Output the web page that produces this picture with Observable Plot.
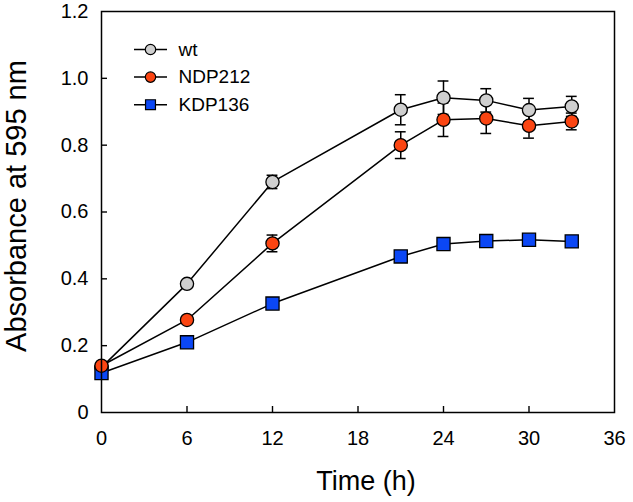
<!DOCTYPE html>
<html>
<head>
<meta charset="utf-8">
<script src="https://cdn.jsdelivr.net/npm/d3@7"></script>
<script src="https://cdn.jsdelivr.net/npm/@observablehq/plot@0.6"></script>
<style>
html,body{margin:0;padding:0;background:#fff;}
svg{display:block;}
</style>
</head>
<body>
<div id="chart"></div>
<script>
const times = [0, 6, 12, 21, 24, 27, 30, 33];
const seriesNames = ["wt", "NDP212", "KDP136"];
const wtValues   = [0.135, 0.385, 0.690, 0.906, 0.942, 0.934, 0.905, 0.916];
const wtErr      = [0.005, 0.008, 0.020, 0.045, 0.050, 0.035, 0.035, 0.030];
const ndpValues  = [0.140, 0.277, 0.506, 0.800, 0.876, 0.880, 0.858, 0.871];
const ndpErr     = [0.005, 0.008, 0.025, 0.040, 0.050, 0.045, 0.037, 0.025];
const kdpValues  = [0.118, 0.210, 0.326, 0.467, 0.504, 0.513, 0.517, 0.512];
const kdpErr     = [0.000, 0.000, 0.000, 0.000, 0.000, 0.000, 0.000, 0.000];
const xTicks = [0, 6, 12, 18, 24, 30, 36];
const yTicks = [0, 0.2, 0.4, 0.6, 0.8, 1.0, 1.2];

const styles = {
  wt:     {fill: "#cfcfcf", symbol: "circle", r: 6.6},
  NDP212: {fill: "#fb4512", symbol: "circle", r: 6.6},
  KDP136: {fill: "#0b47f5", symbol: "square", r: 7.4}
};

function build(name, vals, errs) {
  return times.map((t, i) => ({series: name, t, v: vals[i], e: errs[i]}));
}
const wt = build("wt", wtValues, wtErr);
const ndp = build("NDP212", ndpValues, ndpErr);
const kdp = build("KDP136", kdpValues, kdpErr);
const drawOrder = [wt, kdp, ndp];
const all = [...wt, ...ndp, ...kdp];

const font = "'Liberation Sans', Arial, sans-serif";
const capHalf = 0.38;

const marks = [];
for (const s of drawOrder) {
  marks.push(Plot.line(s, {x: "t", y: "v", stroke: "black", strokeWidth: 1.5}));
}
const withErr = all.filter(d => d.e > 0);
marks.push(Plot.ruleX(withErr, {x: "t", y1: d => d.v - d.e, y2: d => d.v + d.e, stroke: "black", strokeWidth: 1.5}));
marks.push(Plot.ruleY(withErr, {y: d => d.v + d.e, x1: d => d.t - capHalf, x2: d => d.t + capHalf, stroke: "black", strokeWidth: 1.5}));
marks.push(Plot.ruleY(withErr, {y: d => d.v - d.e, x1: d => d.t - capHalf, x2: d => d.t + capHalf, stroke: "black", strokeWidth: 1.5}));
for (const s of drawOrder) {
  const st = styles[s[0].series];
  marks.push(Plot.dot(s, {x: "t", y: "v", r: st.r, symbol: st.symbol, fill: st.fill, stroke: "black", strokeWidth: 1.3}));
}

// inward ticks (negative tick size points into the frame)
const tickMarks = [
  Plot.axisX({ticks: xTicks.slice(1, -1), tickSize: -6, text: null, label: null, stroke: "black", strokeWidth: 1.4}),
  Plot.axisY({ticks: yTicks.slice(1, -1), tickSize: -6, text: null, label: null, stroke: "black", strokeWidth: 1.4})
];

// legend
const legendLine = {draw(context) { context.moveTo(-16.5, 0); context.lineTo(16.5, 0); }};
const legendMarks = [];
seriesNames.forEach((name, i) => {
  const st = styles[name];
  const dy = 38 + i * 27.6;
  legendMarks.push(Plot.dot([name], {frameAnchor: "top-left", dx: 49, dy: dy, r: 5, symbol: legendLine, fill: "none", stroke: "black", strokeWidth: 1.5}));
  legendMarks.push(Plot.dot([name], {frameAnchor: "top-left", dx: 49, dy: dy, r: name === "KDP136" ? 5.6 : 5.2, symbol: st.symbol, fill: st.fill, stroke: "black", strokeWidth: 1.2}));
  legendMarks.push(Plot.text([name], {frameAnchor: "top-left", dx: 77, dy: dy, text: d => d, textAnchor: "start", lineAnchor: "middle", fontSize: 19, fill: "black"}));
});

const chart = Plot.plot({
  width: 633,
  height: 502,
  marginLeft: 101,
  marginRight: 19,
  marginTop: 11,
  marginBottom: 90,
  style: {fontFamily: font, background: "white", color: "black"},
  x: {domain: [0, 36], ticks: xTicks},
  y: {domain: [0, 1.2], ticks: yTicks},
  marks: [
    Plot.axisX({ticks: xTicks, tickSize: 0, tickPadding: 18, fontSize: 20, label: null, tickFormat: d => String(d)}),
    Plot.axisY({ticks: yTicks, tickSize: 0, tickPadding: 13, fontSize: 20, label: null, tickFormat: d => d === 0 ? "0" : d.toFixed(1)}),
    Plot.text(["Time (h)"], {frameAnchor: "bottom", dx: 8, dy: 69, lineAnchor: "middle", textAnchor: "middle", text: d => d, fontSize: 27, fill: "black"}),
    Plot.text(["Absorbance at 595 nm"], {frameAnchor: "left", dx: -85, dy: -6, rotate: -90, textAnchor: "middle", lineAnchor: "middle", text: d => d, fontSize: 29, fill: "black"}),
    ...marks,
    ...tickMarks,
    Plot.frame({stroke: "black", strokeWidth: 1.5}),
    ...legendMarks
  ]
});
document.getElementById("chart").appendChild(chart);
</script>
</body>
</html>
